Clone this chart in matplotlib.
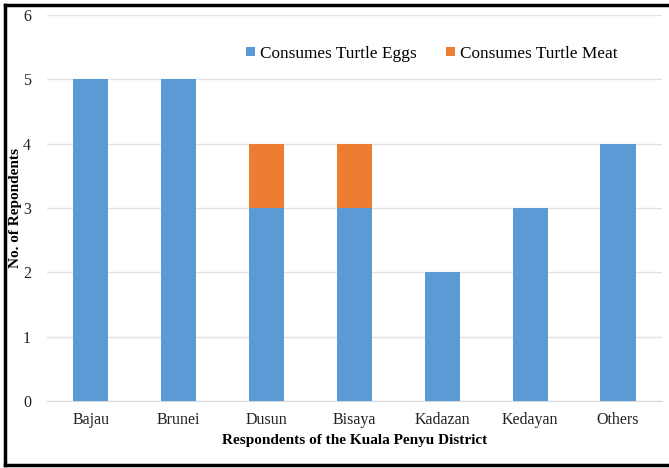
import numpy as np
import matplotlib.pyplot as plt
from matplotlib.lines import Line2D

groups = ['Bajau', 'Brunei', 'Dusun', 'Bisaya', 'Kadazan', 'Kedayan', 'Others']
eggs = [5, 5, 3, 3, 2, 3, 4]
meat = [0, 0, 1, 1, 0, 0, 0]

plt.rcParams['font.family'] = ['Liberation Serif', 'DejaVu Serif']

fig = plt.figure(figsize=(6.69, 4.68), dpi=100)
ax = fig.add_axes([47 / 669, 1 - 401 / 468, 615 / 669, 386 / 468])

x = np.arange(len(groups))
ax.bar(x, eggs, width=0.4, color='#5B9BD5', label='Consumes Turtle Eggs', zorder=3)
ax.bar(x, meat, width=0.4, bottom=eggs, color='#ED7D31', label='Consumes Turtle Meat', zorder=3)

ax.set_xlim(-0.5, len(groups) - 0.5)
ax.set_ylim(0, 6)
ax.set_yticks(range(7))
ax.set_xticks(x)
ax.set_xticklabels(groups)
ax.yaxis.grid(True, color='#e3e3e3', linewidth=1, zorder=0)
for s in ax.spines.values():
    s.set_visible(False)
ax.spines['bottom'].set_visible(True)
ax.spines['bottom'].set_color('#d9d9d9')
ax.tick_params(length=0, labelsize=11.5, colors='#222222', pad=8)
ax.tick_params(axis='y', pad=11.5)

ax.set_xlabel('Respondents of the Kuala Penyu District', fontsize=11, fontweight='bold', labelpad=4)
ax.set_ylabel('No. of Repondents', fontsize=11, fontweight='bold')
ax.yaxis.set_label_coords(-0.041, 0.5)

ax.legend(loc='center', bbox_to_anchor=(0.626, 0.90), ncol=2, frameon=False,
          fontsize=12.4, handlelength=0.5, handleheight=0.5, handletextpad=0.3,
          columnspacing=1.7)

# frame around the figure (left, top, bottom)
lw = 2.5
fig.add_artist(Line2D([5 / 669, 5 / 669], [3 / 468, 1 - 5 / 468], color='black', lw=lw))
fig.add_artist(Line2D([5 / 669, 1], [1 - 5 / 468, 1 - 5 / 468], color='black', lw=lw))
fig.add_artist(Line2D([5 / 669, 1], [3 / 468, 3 / 468], color='black', lw=lw))

fig.savefig('out.png', dpi=100)
